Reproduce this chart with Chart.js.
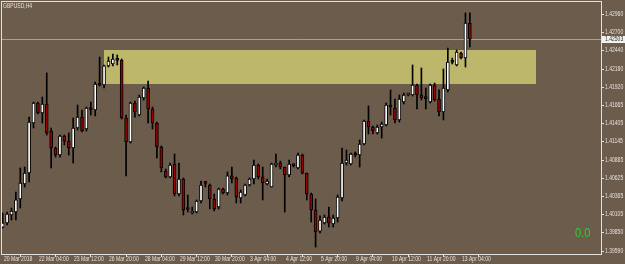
<!DOCTYPE html>
<html>
<head>
<meta charset="utf-8">
<script src="https://cdn.jsdelivr.net/npm/chart.js@4.4.1/dist/chart.umd.min.js"></script>
<style>
  html, body { margin: 0; padding: 0; background: #6c5c4c; }
  canvas { display: block; }
</style>
</head>
<body>
<canvas id="chart" width="625" height="264"></canvas>
<script>
// GBPUSD H4 candles
const symbolTitle = 'GBPUSD,H4';

const opens = [
  1.39828, 1.39886, 1.40000, 1.40042, 1.40228, 1.40441, 1.40598, 1.41310, 1.41595, 1.41453,
  1.41581, 1.41196, 1.40954, 1.40854, 1.41125, 1.41053, 1.40954, 1.41239, 1.41395, 1.41225,
  1.41510, 1.41496, 1.41852, 1.41852, 1.42123, 1.42151, 1.42208, 1.42208, 1.41381, 1.41039,
  1.41595, 1.41424, 1.41666, 1.41809, 1.41510, 1.41310, 1.40968, 1.40626, 1.40541, 1.40726,
  1.40299, 1.40513, 1.40085, 1.40028, 1.40042, 1.40199, 1.40456, 1.40427, 1.40228, 1.40113,
  1.40370, 1.40313, 1.40556, 1.40527, 1.40242, 1.40285, 1.40427, 1.40513, 1.40712, 1.40541,
  1.40441, 1.40398, 1.40712, 1.40740, 1.40683, 1.40570, 1.40712, 1.40669, 1.40854, 1.40598,
  1.40299, 1.40071, 1.39771, 1.39886, 1.39971, 1.39871, 1.39957, 1.40242, 1.40740, 1.40726,
  1.40868, 1.40854, 1.41011, 1.41338, 1.41253, 1.41168, 1.41253, 1.41282, 1.41567, 1.41524,
  1.41353, 1.41609, 1.41709, 1.41709, 1.41852, 1.41709, 1.41666, 1.41609, 1.41852, 1.41652,
  1.41467, 1.41781, 1.42179, 1.42137, 1.42308, 1.42236, 1.42735
];
const highs = [
  1.40028, 1.40042, 1.40099, 1.40327, 1.40669, 1.40683, 1.41395, 1.41609, 1.41609, 1.41680,
  1.42023, 1.41239, 1.40968, 1.41139, 1.41139, 1.41168, 1.41381, 1.41567, 1.41496, 1.41538,
  1.41609, 1.41894, 1.42250, 1.42137, 1.42250, 1.42293, 1.42279, 1.42222, 1.41424, 1.41609,
  1.41623, 1.41709, 1.41823, 1.41908, 1.41538, 1.41324, 1.40983, 1.40655, 1.40740, 1.40868,
  1.40740, 1.40527, 1.40285, 1.40113, 1.40214, 1.40484, 1.40470, 1.40441, 1.40299, 1.40384,
  1.40384, 1.40612, 1.40683, 1.40541, 1.40356, 1.40441, 1.40527, 1.40783, 1.40726, 1.40683,
  1.40513, 1.40740, 1.40868, 1.40768, 1.40683, 1.40783, 1.40726, 1.40883, 1.40868, 1.40598,
  1.40313, 1.40228, 1.39986, 1.40000, 1.40113, 1.40000, 1.40285, 1.40954, 1.40926, 1.40883,
  1.40897, 1.41068, 1.41353, 1.41553, 1.41268, 1.41282, 1.41324, 1.41595, 1.41781, 1.41652,
  1.41709, 1.41737, 1.41737, 1.42137, 1.41866, 1.42094, 1.41809, 1.41866, 1.41880, 1.41781,
  1.42080, 1.42379, 1.42236, 1.42351, 1.42322, 1.42878, 1.42878
];
const lows = [
  1.39814, 1.39857, 1.39929, 1.39929, 1.40099, 1.40398, 1.40470, 1.41239, 1.41438, 1.41310,
  1.41139, 1.40669, 1.40825, 1.40825, 1.40997, 1.40854, 1.40740, 1.41211, 1.41182, 1.41196,
  1.41424, 1.41410, 1.41837, 1.41809, 1.42108, 1.42123, 1.42137, 1.41367, 1.40556, 1.41025,
  1.41395, 1.41410, 1.41638, 1.41310, 1.41225, 1.40811, 1.40612, 1.40527, 1.40527, 1.40271,
  1.40271, 1.40000, 1.40042, 1.40014, 1.40028, 1.40171, 1.40398, 1.40085, 1.40056, 1.40085,
  1.40299, 1.40285, 1.40456, 1.40171, 1.40171, 1.40271, 1.40413, 1.40441, 1.40513, 1.40214,
  1.40427, 1.40398, 1.40683, 1.40655, 1.40042, 1.40541, 1.40683, 1.40655, 1.40584, 1.40214,
  1.39900, 1.39543, 1.39743, 1.39871, 1.39828, 1.39828, 1.39900, 1.40199, 1.40712, 1.40712,
  1.40825, 1.40683, 1.40997, 1.41153, 1.41153, 1.41153, 1.41096, 1.41268, 1.41424, 1.41310,
  1.41324, 1.41581, 1.41695, 1.41695, 1.41510, 1.41638, 1.41510, 1.41595, 1.41623, 1.41410,
  1.41353, 1.41752, 1.42151, 1.42123, 1.42222, 1.42108, 1.42393
];
const closes = [
  1.39886, 1.40014, 1.40056, 1.40214, 1.40456, 1.40598, 1.41324, 1.41595, 1.41453, 1.41581,
  1.41168, 1.40954, 1.40854, 1.41125, 1.41053, 1.40954, 1.41239, 1.41395, 1.41196, 1.41524,
  1.41503, 1.41866, 1.41848, 1.42123, 1.42193, 1.42222, 1.42203, 1.41381, 1.41039, 1.41595,
  1.41467, 1.41680, 1.41809, 1.41510, 1.41310, 1.40968, 1.40669, 1.40541, 1.40712, 1.40299,
  1.40513, 1.40071, 1.40078, 1.40042, 1.40199, 1.40427, 1.40451, 1.40228, 1.40085, 1.40370,
  1.40313, 1.40556, 1.40513, 1.40256, 1.40327, 1.40427, 1.40513, 1.40712, 1.40541, 1.40456,
  1.40484, 1.40726, 1.40740, 1.40683, 1.40570, 1.40726, 1.40703, 1.40854, 1.40598, 1.40299,
  1.40071, 1.39757, 1.39929, 1.39971, 1.39886, 1.39957, 1.40256, 1.40740, 1.40783, 1.40868,
  1.40854, 1.41011, 1.41338, 1.41253, 1.41196, 1.41253, 1.41296, 1.41567, 1.41538, 1.41353,
  1.41652, 1.41709, 1.41723, 1.41852, 1.41709, 1.41666, 1.41658, 1.41852, 1.41638, 1.41467,
  1.41809, 1.42179, 1.42173, 1.42322, 1.42236, 1.42735, 1.42503
];

const timeLabels = [
  '20 Mar 2018', '22 Mar 04:00', '23 Mar 12:00', '26 Mar 20:00', '28 Mar 04:00',
  '29 Mar 12:00', '30 Mar 20:00', '3 Apr 04:00', '4 Apr 12:00', '5 Apr 20:00',
  '9 Apr 04:00', '10 Apr 12:00', '11 Apr 20:00', '13 Apr 04:00'
];
const timeLabelBars = [0, 8, 16, 24, 32, 40, 48, 56, 64, 72, 80, 88, 96, 104];

const priceTicks = [
  1.42960, 1.42700, 1.42440, 1.42180, 1.41920, 1.41665, 1.41405,
  1.41145, 1.40885, 1.40625, 1.40365, 1.40105, 1.39850, 1.39590
];
const bidPrice = 1.42503;

// supply/demand box drawn on the chart
const zoneTop = 1.42350;
const zoneBottom = 1.41866;
const zoneFromBar = 23.0;
const zoneToBar = 121.1;

const indicatorText = '0.0';

const BG = '#6c5c4c';
const FG = '#e4e0da';
const UP = '#ffffff';
const DOWN = '#960000';
const FONT = "'Liberation Sans', 'DejaVu Sans', sans-serif";
const SQUEEZE = 0.72;   // MT4 axis font is much narrower than anything installed
const LABEL_DROP = 6.8; // MT4 prints price labels just below their level

const wicks = opens.map((o, i) => ({ x: i, y: [lows[i], highs[i]] }));
const bodies = opens.map((o, i) => ({ x: i, y: [o, closes[i]] }));
const bodyColors = opens.map((o, i) => closes[i] >= o ? UP : DOWN);

function squeezedText(ctx, text, x, y) {
  ctx.save();
  ctx.translate(x, y);
  ctx.scale(SQUEEZE, 1);
  ctx.textAlign = 'left';
  ctx.fillText(text, 0, 0);
  ctx.restore();
}

const mt4Decor = {
  id: 'mt4Decor',
  beforeDraw(chart) {
    const ctx = chart.ctx;
    ctx.save();
    ctx.fillStyle = BG;
    ctx.fillRect(0, 0, chart.width, chart.height);
    ctx.restore();
  },
  beforeDatasetsDraw(chart) {
    const { ctx, chartArea: a, scales: { x, y } } = chart;
    ctx.save();
    ctx.beginPath();
    ctx.rect(a.left, a.top, a.right - a.left, a.bottom - a.top);
    ctx.clip();
    // zone rectangle
    const x0 = x.getPixelForValue(zoneFromBar);
    const x1 = x.getPixelForValue(zoneToBar);
    const y0 = y.getPixelForValue(zoneTop);
    const y1 = y.getPixelForValue(zoneBottom);
    ctx.fillStyle = '#bdb76b';
    ctx.fillRect(Math.round(x0), Math.round(y0), Math.round(x1 - x0), Math.round(y1 - y0));
    // bid line
    const yb = Math.round(y.getPixelForValue(bidPrice)) + 0.5;
    ctx.strokeStyle = '#a4a09a';
    ctx.lineWidth = 1;
    ctx.beginPath();
    ctx.moveTo(a.left, yb);
    ctx.lineTo(a.right, yb);
    ctx.stroke();
    ctx.restore();
  },
  afterDraw(chart) {
    const { ctx, chartArea: a, scales: { x, y } } = chart;
    ctx.save();
    ctx.strokeStyle = FG;
    ctx.lineWidth = 1;
    ctx.strokeRect(a.left - 0.5, a.top - 0.5, a.right - a.left + 1, a.bottom - a.top + 1);

    ctx.fillStyle = FG;
    ctx.font = '7px ' + FONT;
    ctx.textBaseline = 'middle';
    squeezedText(ctx, symbolTitle, a.left + 1, a.top + 4);

    // price axis labels with their small tick marks
    priceTicks.forEach(v => {
      const py = Math.round(y.getPixelForValue(v) + LABEL_DROP);
      ctx.fillRect(a.right + 1, py, 2, 1);
      squeezedText(ctx, v.toFixed(5), a.right + 4, py + 0.5);
    });
    // current bid label box
    const yb = Math.round(y.getPixelForValue(bidPrice));
    ctx.fillStyle = '#f2f2f2';
    ctx.fillRect(a.right + 1, yb - 3, chart.width - a.right - 1, 7);
    ctx.fillStyle = '#303030';
    squeezedText(ctx, bidPrice.toFixed(5), a.right + 4, yb + 0.5);

    // time axis labels
    ctx.fillStyle = FG;
    timeLabelBars.forEach((b, i) => {
      squeezedText(ctx, timeLabels[i], Math.round(x.getPixelForValue(b)) + 1, a.bottom + 5);
    });

    ctx.fillStyle = '#32cd32';
    ctx.font = '13px ' + FONT;
    ctx.textBaseline = 'alphabetic';
    ctx.save();
    ctx.translate(a.right - 26, a.bottom - 17);
    ctx.scale(0.85, 1);
    ctx.fillText(indicatorText, 0, 0);
    ctx.restore();
    ctx.restore();
  }
};

new Chart(document.getElementById('chart'), {
  type: 'bar',
  data: {
    datasets: [
      {
        label: 'wick',
        data: wicks,
        backgroundColor: '#000000',
        borderWidth: 0,
        barThickness: 1,
        grouped: false,
        order: 2
      },
      {
        label: 'body',
        data: bodies,
        backgroundColor: bodyColors,
        borderColor: '#000000',
        borderWidth: 1,
        borderSkipped: false,
        barThickness: 3,
        minBarLength: 2,
        grouped: false,
        order: 1
      }
    ]
  },
  plugins: [mt4Decor],
  options: {
    responsive: false,
    animation: false,
    layout: { padding: { left: 2, top: 2, right: 0, bottom: 0 } },
    plugins: {
      legend: { display: false },
      title: { display: false },
      tooltip: { enabled: false }
    },
    scales: {
      x: {
        type: 'linear',
        min: -0.15,
        max: 135.75,
        offset: false,
        afterBuildTicks: (s) => { s.ticks = timeLabelBars.map(v => ({ value: v })); },
        afterFit: (s) => { s.height = 10; },
        border: { display: true, color: FG },
        grid: { drawOnChartArea: false, tickLength: 3, color: FG },
        ticks: { display: false }
      },
      y: {
        position: 'right',
        min: 1.39444,
        max: 1.43034,
        afterBuildTicks: (s) => { s.ticks = priceTicks.map(v => ({ value: v })); },
        afterFit: (s) => { s.width = 24; },
        border: { display: true, color: FG },
        grid: { drawOnChartArea: false, drawTicks: false },
        ticks: { display: false }
      }
    }
  }
});
</script>
</body>
</html>
